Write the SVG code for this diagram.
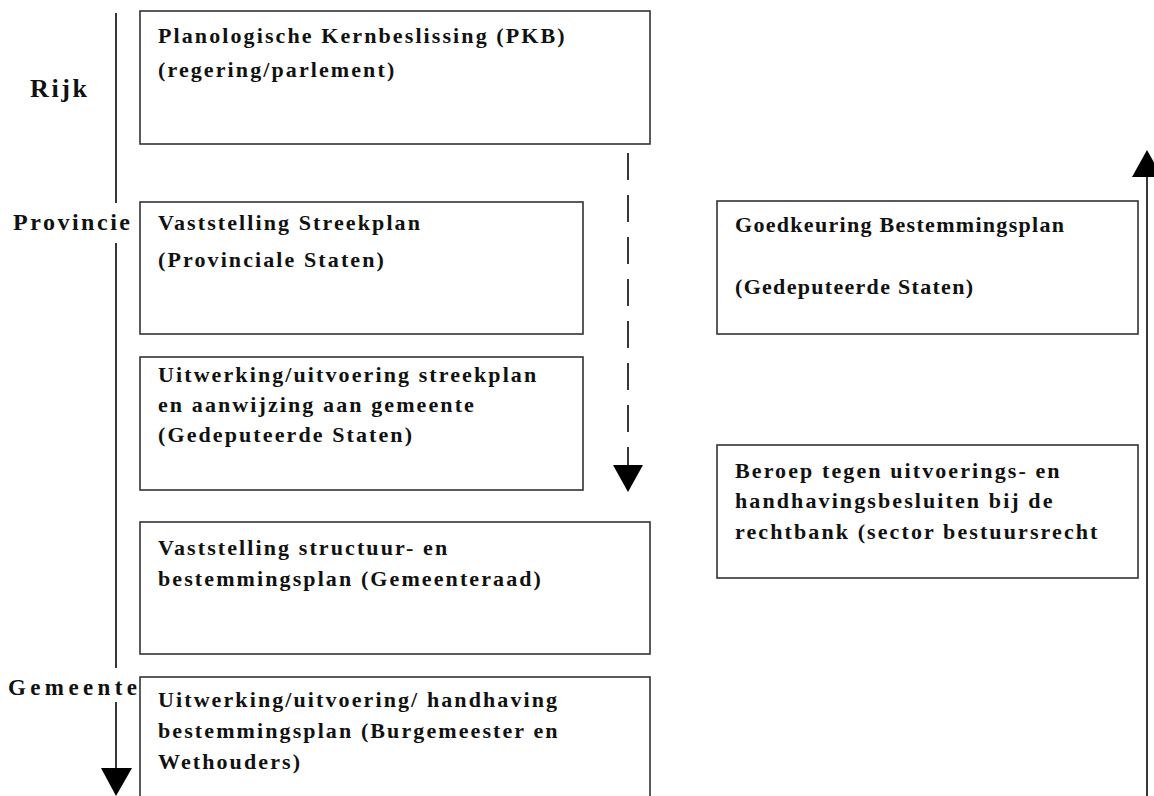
<svg xmlns="http://www.w3.org/2000/svg" width="1154" height="796" viewBox="0 0 1154 796">
<style>
.box{fill:#fff;stroke:#333;stroke-width:1.6}
.t{font-family:"Liberation Serif","Times New Roman",serif;font-weight:bold;font-size:22px;letter-spacing:2.1px;fill:#111}
.t2{letter-spacing:1.3px}
.lbl{font-family:"Liberation Serif","Times New Roman",serif;font-weight:bold;fill:#111}
.ln{stroke:#222;stroke-width:1.8;fill:none}
.head{fill:#000}
</style>
<rect width="1154" height="796" fill="#fff"/>
<g id="labels">
<text class="lbl" x="30" y="97" font-size="26" textLength="57" lengthAdjust="spacing">Rijk</text>
<text class="lbl" x="13" y="230" font-size="24" textLength="117" lengthAdjust="spacing">Provincie</text>
<text class="lbl" x="8" y="695" font-size="23" textLength="129" lengthAdjust="spacing">Gemeente</text>
</g>
<g id="connectors">
<path class="ln" d="M116 13 V203 M116 243 V668 M116 702 V770"/>
<polygon class="head" points="101,768 132,768 116,796"/>
<path class="ln" d="M628 153 V466" stroke-dasharray="27 15"/>
<polygon class="head" points="613,465 643,465 628,492"/>
<path class="ln" d="M1147 175 V796"/>
<polygon class="head" points="1132,177 1162,177 1147,150"/>
</g>
<g id="node-pkb">
<rect class="box" x="140" y="11" width="510" height="133"/>
<text class="t" x="158" y="43">Planologische Kernbeslissing (PKB)</text>
<text class="t" x="158" y="77">(regering/parlement)</text>
</g>
<g id="node-streekplan">
<rect class="box" x="140" y="202" width="443" height="132"/>
<text class="t" x="158" y="230">Vaststelling Streekplan</text>
<text class="t" x="158" y="267">(Provinciale Staten)</text>
</g>
<g id="node-uitwerking-streekplan">
<rect class="box" x="140" y="357" width="443" height="133"/>
<text class="t" x="158" y="382">Uitwerking/uitvoering streekplan</text>
<text class="t" x="158" y="412">en aanwijzing aan gemeente</text>
<text class="t" x="158" y="442">(Gedeputeerde Staten)</text>
</g>
<g id="node-bestemmingsplan">
<rect class="box" x="140" y="522" width="510" height="132"/>
<text class="t" x="158" y="555">Vaststelling structuur- en</text>
<text class="t" x="158" y="586">bestemmingsplan (Gemeenteraad)</text>
</g>
<g id="node-handhaving">
<rect class="box" x="140" y="677" width="510" height="140"/>
<text class="t" x="158" y="707">Uitwerking/uitvoering/ handhaving</text>
<text class="t" x="158" y="738">bestemmingsplan (Burgemeester en</text>
<text class="t" x="158" y="769">Wethouders)</text>
</g>
<g id="node-goedkeuring">
<rect class="box" x="717" y="201" width="421" height="133"/>
<text class="t t2" x="735" y="232">Goedkeuring Bestemmingsplan</text>
<text class="t t2" x="735" y="294">(Gedeputeerde Staten)</text>
</g>
<g id="node-beroep">
<rect class="box" x="717" y="445" width="421" height="133"/>
<text class="t" x="735" y="478">Beroep tegen uitvoerings- en</text>
<text class="t" x="735" y="508">handhavingsbesluiten bij de</text>
<text class="t" x="735" y="539">rechtbank (sector bestuursrecht</text>
</g>
</svg>
